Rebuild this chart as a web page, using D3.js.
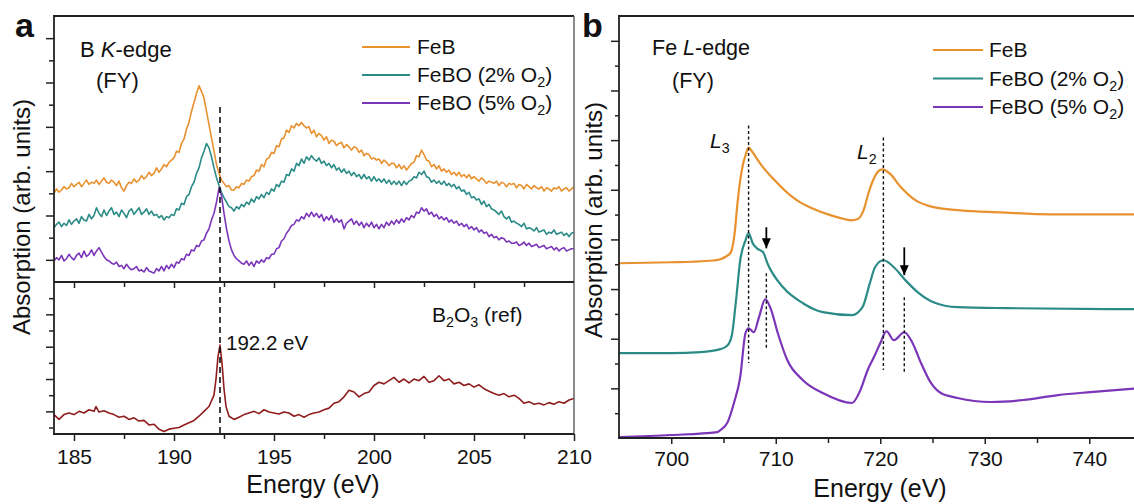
<!DOCTYPE html>
<html><head><meta charset="utf-8">
<script src="https://cdn.jsdelivr.net/npm/d3@7"></script>
<style>body{margin:0;background:#fff}svg{display:block}</style>
</head><body><svg id="c" width="1134" height="504"></svg>
<script>
// ---------- DATA ----------
// Panel a (B K-edge, FY): energy grid 184..210 eV every 0.125 eV, absorption
const energyK = d3.range(209).map(i => 184 + i / 8);
const feB_K = [
4.00,4.20,4.05,4.15,4.30,4.20,4.25,4.45,
4.30,4.40,4.50,4.30,4.45,4.60,4.40,4.50,
4.45,4.60,4.40,4.55,4.70,4.50,4.45,4.60,
4.50,4.35,4.55,4.25,4.10,4.35,4.50,4.45,
4.65,4.50,4.60,4.80,4.65,4.75,4.95,4.80,
4.90,5.15,4.95,5.10,5.30,5.20,5.40,5.50,
5.60,5.90,5.85,6.25,6.45,6.90,7.20,7.70,
8.10,8.50,8.85,8.60,8.30,7.70,7.10,6.50,
5.90,5.30,4.90,4.60,4.45,4.30,4.35,4.15,
4.15,4.30,4.25,4.45,4.40,4.60,4.55,4.75,
4.80,5.05,5.00,5.30,5.20,5.55,5.60,5.85,
5.80,6.15,6.10,6.45,6.50,6.85,6.75,7.05,
6.95,7.15,7.05,7.20,7.05,6.95,7.00,6.70,
6.85,6.55,6.70,6.60,6.40,6.55,6.25,6.40,
6.35,6.15,6.25,6.30,6.05,6.20,6.10,5.95,
6.10,6.05,5.85,5.95,5.70,5.80,5.75,5.55,
5.60,5.50,5.55,5.35,5.50,5.40,5.25,5.35,
5.35,5.15,5.30,5.10,5.25,5.05,5.20,5.35,
5.40,5.70,5.65,5.95,5.75,5.50,5.45,5.20,
5.30,5.10,5.25,5.00,5.10,4.95,5.05,4.85,
4.95,4.80,4.95,4.75,4.85,4.70,4.85,4.65,
4.75,4.65,4.55,4.70,4.60,4.45,4.55,4.50,
4.45,4.55,4.35,4.50,4.45,4.30,4.45,4.40,
4.45,4.25,4.40,4.35,4.20,4.40,4.30,4.20,
4.35,4.25,4.20,4.30,4.10,4.25,4.20,4.10,
4.25,4.20,4.30,4.10,4.20,4.25,4.10,4.20,
4.30];
const feBO2_K = [
2.45,2.60,2.70,2.50,2.65,2.55,2.80,2.60,
2.75,2.85,2.65,2.95,2.80,2.75,3.05,2.85,
3.00,3.35,3.10,2.95,3.25,3.00,3.20,3.35,
3.05,3.15,2.95,3.25,3.10,2.90,3.20,3.30,
3.05,3.20,3.35,3.05,3.15,3.30,3.05,3.20,
3.00,3.05,2.90,3.00,2.80,2.95,2.90,3.05,
3.00,3.30,3.25,3.55,3.50,3.85,3.95,4.30,
4.50,4.90,5.15,5.60,5.90,6.25,6.05,5.65,
5.15,4.70,4.35,4.05,3.80,3.60,3.40,3.35,
3.20,3.40,3.30,3.50,3.40,3.60,3.50,3.75,
3.60,3.85,3.75,3.95,3.80,4.05,3.95,4.20,
4.10,4.40,4.30,4.55,4.50,4.85,4.80,5.10,
5.00,5.35,5.25,5.55,5.35,5.65,5.50,5.70,
5.55,5.45,5.60,5.35,5.45,5.25,5.35,5.15,
5.30,5.05,5.15,4.95,5.10,4.90,5.00,4.80,
4.95,4.75,4.85,4.65,4.85,4.65,4.75,4.55,
4.75,4.55,4.65,4.50,4.65,4.45,4.60,4.40,
4.55,4.40,4.55,4.35,4.55,4.40,4.55,4.60,
4.75,4.70,4.95,4.85,5.00,4.75,4.70,4.50,
4.60,4.45,4.55,4.40,4.55,4.35,4.45,4.30,
4.40,4.20,4.30,4.10,4.15,3.95,4.05,3.80,
3.85,3.70,3.75,3.50,3.65,3.40,3.50,3.30,
3.25,3.15,3.05,3.20,2.95,2.85,2.95,2.70,
2.75,2.65,2.60,2.50,2.65,2.40,2.45,2.40,
2.30,2.45,2.25,2.30,2.35,2.15,2.25,2.20,
2.35,2.15,2.20,2.25,2.10,2.20,2.05,2.20,
2.25];
const feBO5_K = [
0.95,1.10,1.00,1.20,0.95,1.05,1.25,1.10,
1.00,1.20,1.30,1.10,1.40,1.15,1.25,1.45,
1.20,1.40,1.55,1.35,1.15,1.00,0.95,0.85,
0.80,0.90,0.70,0.75,0.60,0.80,0.65,0.55,
0.60,0.70,0.50,0.55,0.45,0.65,0.50,0.45,
0.40,0.60,0.50,0.70,0.50,0.75,0.60,0.80,
0.65,0.90,0.85,1.05,1.00,1.25,1.20,1.45,
1.40,1.65,1.60,1.85,1.90,2.20,2.40,2.80,
3.10,3.60,4.25,3.90,3.10,2.40,1.85,1.45,
1.20,1.05,0.95,0.85,0.80,0.95,0.75,0.90,
0.70,0.95,0.85,1.00,0.90,1.10,1.05,1.25,
1.25,1.50,1.55,1.85,1.95,2.20,2.35,2.55,
2.60,2.80,2.75,2.95,2.85,3.10,2.95,3.15,
2.95,3.10,2.90,3.05,2.75,2.95,2.80,3.00,
2.70,2.85,2.70,2.80,2.40,2.65,2.75,2.85,
2.60,2.75,2.55,2.70,2.45,2.65,2.50,2.70,
2.45,2.60,2.40,2.60,2.45,2.70,2.55,2.75,
2.60,2.80,2.65,2.85,2.70,2.90,2.80,3.00,
2.90,3.15,3.10,3.35,3.20,3.30,3.05,3.15,
2.95,3.05,2.85,2.95,2.80,2.90,2.70,2.80,
2.65,2.75,2.55,2.65,2.50,2.60,2.40,2.50,
2.35,2.45,2.25,2.35,2.20,2.25,2.05,2.15,
2.00,2.05,1.90,2.00,1.95,1.80,1.85,1.75,
1.75,1.80,1.65,1.70,1.80,1.65,1.75,1.60,
1.65,1.70,1.55,1.60,1.65,1.50,1.55,1.60,
1.45,1.55,1.40,1.50,1.55,1.40,1.45,1.50,
1.50];
// B2O3 reference: [energy eV, absorption]
const b2o3_K = [[184,0.9],[184.25,0.75],[184.5,0.9],[184.75,0.95],[185,0.9],[185.25,1.0],[185.5,0.95],[185.75,1.05],[186,1.0],[186.1,1.15],[186.25,0.98],[186.5,1.02],[186.75,0.95],[187,0.9],[187.25,0.82],[187.5,0.85],[187.75,0.75],[188,0.8],[188.25,0.7],[188.5,0.72],[188.75,0.58],[189,0.6],[189.25,0.45],[189.5,0.38],[189.75,0.45],[190,0.48],[190.25,0.5],[190.5,0.58],[190.75,0.65],[191,0.72],[191.25,0.85],[191.5,1.0],[191.75,1.15],[192,1.5],[192.1,2.0],[192.2,2.7],[192.3,3.05],[192.4,2.5],[192.5,1.7],[192.6,1.15],[192.75,0.85],[193,0.75],[193.25,0.82],[193.5,0.9],[193.75,0.95],[194,1.0],[194.25,0.93],[194.5,1.05],[194.75,0.98],[195,0.95],[195.25,0.92],[195.5,0.98],[195.75,0.95],[196,0.85],[196.25,0.9],[196.5,0.82],[196.75,0.9],[197,0.95],[197.25,0.98],[197.5,1.05],[197.75,1.1],[198,1.25],[198.25,1.3],[198.5,1.45],[198.75,1.65],[199,1.6],[199.25,1.45],[199.5,1.55],[199.75,1.6],[200,1.8],[200.25,1.9],[200.5,1.85],[200.75,1.95],[201,2.05],[201.25,1.9],[201.5,2.0],[201.75,1.88],[202,2.0],[202.25,1.95],[202.5,2.08],[202.75,1.9],[203,1.95],[203.25,2.1],[203.5,1.95],[203.75,2.0],[204,1.85],[204.25,1.9],[204.5,1.8],[204.75,1.85],[205,1.75],[205.25,1.82],[205.5,1.7],[205.75,1.62],[206,1.55],[206.25,1.5],[206.5,1.55],[206.75,1.45],[207,1.5],[207.25,1.4],[207.5,1.25],[207.75,1.3],[208,1.22],[208.25,1.25],[208.5,1.2],[208.75,1.27],[209,1.22],[209.25,1.3],[209.5,1.25],[209.75,1.35],[210,1.4]];

// Panel b (Fe L-edge, FY): [energy eV, absorption]
const feB_L = [[695,7.04],[700,7.08],[702,7.1],[704,7.15],[704.7,7.2],[705.2,7.3],[705.7,7.48],[706.1,8.37],[706.3,9.3],[706.6,10.38],[706.85,11.0],[707.1,11.38],[707.4,11.7],[707.8,11.5],[708.5,11.06],[709.9,10.38],[711.4,9.77],[712.3,9.5],[713.3,9.29],[715.3,8.97],[716.2,8.86],[717.2,8.77],[717.8,8.81],[718.4,9.17],[718.9,9.9],[719.4,10.46],[719.8,10.74],[720.2,10.82],[721.0,10.62],[721.9,10.14],[723.4,9.57],[724.8,9.33],[727.7,9.17],[731.5,9.09],[736.3,9.01],[741.1,9.01],[745,9.01]];
const feBO2_L = [[695,3.42],[700,3.42],[702.8,3.46],[704.7,3.58],[705.4,3.74],[705.8,4.14],[706.2,5.55],[706.6,7.16],[707.1,7.96],[707.4,8.25],[707.8,7.84],[708.2,7.64],[708.8,7.48],[709.2,7.04],[710.7,6.07],[712.6,5.43],[714.5,5.07],[717.3,4.95],[718.3,5.27],[719.0,6.23],[719.5,6.88],[720.3,7.16],[721.4,6.84],[722.4,6.36],[723.6,5.87],[725.1,5.47],[727.4,5.27],[732.2,5.23],[745,5.19]];
const feBO5_L = [[695,0.04],[700,0.12],[704.4,0.24],[704.7,0.32],[705.4,0.64],[706.0,1.41],[706.6,2.45],[707.1,4.22],[707.4,4.42],[707.9,4.26],[708.4,4.87],[709.0,5.59],[709.5,5.23],[710.2,4.22],[711.1,3.14],[712.6,2.33],[714.5,1.81],[717.3,1.41],[718.1,1.93],[718.8,2.74],[719.4,3.26],[720.0,3.82],[720.6,4.3],[721.3,3.94],[722.3,4.26],[723.1,3.82],[723.9,3.02],[724.8,2.25],[725.8,1.81],[727.4,1.61],[730.6,1.45],[733.7,1.53],[737.0,1.73],[740.1,1.85],[745,2.01]];

// ticks
const xTicksA = [185,190,195,200,205,210];
const xMinorA = [187.5,192.5,197.5,202.5,207.5];
const yTopMajor = [1,3,5,7,9,11], yTopMinor = [2,4,6,8,10];
const yBotMajor = [1,2,3,4], yBotMinor = [0.5,1.5,2.5,3.5,4.5];
const xTicksB = [700,710,720,730,740];
const xMinorB = [705,715,725,735];
const yBMajor = [2,4,6,8,10,12,14,16], yBMinor = [1,3,5,7,9,11,13,15];

// annotations
const refLineA = {e:192.3, top:7.9};
const peakLinesB = [{e:707.4,y1:12.59,y2:3.02},{e:709.1,y1:6.64,y2:3.54},{e:720.3,y1:12.11,y2:2.74},{e:722.3,y1:5.67,y2:2.61}];
const arrowsB = [{e:709.1,y1:8.49,y2:7.64},{e:722.3,y1:7.68,y2:6.56}];

const COL = {feB:"#E8912F", o2:"#2B8B87", o5:"#7B35B8", ref:"#8E1C1C"};
const FONT = "'Liberation Sans', Arial, sans-serif";

// ---------- DRAW ----------
const svg = d3.select("#c").style("font-family", FONT);
const xA = d3.scaleLinear([184,210],[54,574]);
const yAT = d3.scaleLinear([0,12],[282,16]);
const yAB = d3.scaleLinear([0.3,5.0],[434,282]);
const xB = d3.scaleLinear([695,745],[619,1141.5]);
const yB = d3.scaleLinear([0,17],[438,16]);

const defs = svg.append("defs");
defs.append("clipPath").attr("id","clipAT").append("rect").attr("x",54).attr("y",16).attr("width",520).attr("height",266);
defs.append("clipPath").attr("id","clipAB").append("rect").attr("x",54).attr("y",282).attr("width",520).attr("height",152);
defs.append("marker").attr("id","arr").attr("viewBox","0 0 10 10").attr("refX",10).attr("refY",5)
  .attr("markerWidth",10).attr("markerHeight",11).attr("markerUnits","userSpaceOnUse").attr("orient","auto")
  .append("path").attr("d","M0,0.5 L10,5 L0,9.5 Z").attr("fill","#000");

function axis(g, a, vals, size, labels, pad){
  a.tickValues(vals).tickSizeOuter(0).tickSizeInner(size).tickPadding(pad||5);
  if(!labels) a.tickFormat("");
  g.call(a);
  g.select(".domain").remove();
  g.selectAll("line").attr("stroke","#222").attr("stroke-width",1.5);
  g.selectAll("text").attr("font-family",FONT).attr("font-size",21).attr("fill","#111");
}

// panel a curves
const lineAT = d3.line().x(d=>xA(d[0])).y(d=>yAT(d[1]));
const lineAB = d3.line().x(d=>xA(d[0])).y(d=>yAB(d[1]));
const gAT = svg.append("g").attr("clip-path","url(#clipAT)");
[[feB_K,COL.feB],[feBO2_K,COL.o2],[feBO5_K,COL.o5]].forEach(([vals,c])=>{
  const d = vals.map((v,i)=>[energyK[i], v]);
  gAT.append("path").datum(d).attr("d",lineAT).attr("fill","none").attr("stroke",c).attr("stroke-width",1.6).attr("stroke-linejoin","round");
});
svg.append("g").attr("clip-path","url(#clipAB)").append("path").datum(b2o3_K).attr("d",lineAB)
  .attr("fill","none").attr("stroke",COL.ref).attr("stroke-width",1.6).attr("stroke-linejoin","round");

// dashed reference line a
svg.append("line").attr("x1",xA(refLineA.e)).attr("x2",xA(refLineA.e)).attr("y1",yAT(refLineA.top)).attr("y2",yAB(0.3))
  .attr("stroke","#111").attr("stroke-width",1.6).attr("stroke-dasharray","6,4");

// panel a axes
axis(svg.append("g").attr("transform","translate(54,0)"), d3.axisLeft(yAT), yTopMajor, 8, false);
axis(svg.append("g").attr("transform","translate(54,0)"), d3.axisLeft(yAT), yTopMinor, 5, false);
axis(svg.append("g").attr("transform","translate(54,0)"), d3.axisLeft(yAB), yBotMajor, 8, false);
axis(svg.append("g").attr("transform","translate(54,0)"), d3.axisLeft(yAB), yBotMinor, 5, false);
axis(svg.append("g").attr("transform","translate(0,282)"), d3.axisBottom(xA), xTicksA.filter(v=>v<210), 6, false);
axis(svg.append("g").attr("transform","translate(0,282)"), d3.axisBottom(xA), xMinorA, 5, false);
axis(svg.append("g").attr("transform","translate(0,434)"), d3.axisBottom(xA), xTicksA, 7, true, 8);
axis(svg.append("g").attr("transform","translate(0,434)"), d3.axisBottom(xA), xMinorA, 5, false);
// frame a
const fr = (x1,y1,x2,y2,c,w)=>svg.append("line").attr("x1",x1).attr("y1",y1).attr("x2",x2).attr("y2",y2).attr("stroke",c).attr("stroke-width",w);
fr(54,16,54,434,"#222",1.8);
fr(53,16,574,16,"#222",1.8);
fr(574,16,574,434,"#666",1.5);
fr(54,282,574,282,"#222",1.8);
fr(53,434,574,434,"#222",1.8);

// panel b curves
const lineB = d3.line().x(d=>xB(d[0])).y(d=>yB(d[1])).curve(d3.curveMonotoneX);
[[feB_L,COL.feB],[feBO2_L,COL.o2],[feBO5_L,COL.o5]].forEach(([d,c])=>{
  svg.append("path").datum(d).attr("d",lineB).attr("fill","none").attr("stroke",c).attr("stroke-width",2.2);
});
peakLinesB.forEach(p=>svg.append("line").attr("x1",xB(p.e)).attr("x2",xB(p.e)).attr("y1",yB(p.y1)).attr("y2",yB(p.y2))
  .attr("stroke","#111").attr("stroke-width",1.4).attr("stroke-dasharray","3,2.5"));
arrowsB.forEach(p=>svg.append("line").attr("x1",xB(p.e)).attr("x2",xB(p.e)).attr("y1",yB(p.y1)).attr("y2",yB(p.y2))
  .attr("stroke","#000").attr("stroke-width",1.8).attr("marker-end","url(#arr)"));

// panel b axes
axis(svg.append("g").attr("transform","translate(619,0)"), d3.axisLeft(yB), yBMajor, 8, false);
axis(svg.append("g").attr("transform","translate(619,0)"), d3.axisLeft(yB), yBMinor, 4, false);
axis(svg.append("g").attr("transform","translate(0,438)"), d3.axisBottom(xB), xTicksB, 6, true, 7);
axis(svg.append("g").attr("transform","translate(0,438)"), d3.axisBottom(xB), xMinorB, 5, false);
fr(619,16,619,438,"#222",1.8);
fr(618,16,1134,16,"#222",1.8);
fr(618,438,1134,438,"#222",1.8);

// ---------- TEXT ----------
function txt(x,y,parts,size,opts={}){
  const t = svg.append("text").attr("x",x).attr("y",y).attr("font-size",size).attr("fill","#111");
  if(opts.anchor) t.attr("text-anchor",opts.anchor);
  if(opts.weight) t.attr("font-weight",opts.weight);
  if(opts.transform) t.attr("transform",opts.transform);
  let pending = 0;
  parts.forEach(p=>{
    const s = t.append("tspan");
    if(typeof p==="string"){ s.text(p); if(pending){ s.attr("dy",pending); pending=0; } }
    else if(p.sub){ s.attr("font-size",size*0.68).attr("dy",size*0.25 + pending).text(p.sub); pending = -size*0.25; }
    else if(p.it){ s.attr("font-style","italic").text(p.it); if(pending){ s.attr("dy",pending); pending=0; } }
  });
  return t;
}
txt(15,37,["a"],34,{weight:"bold"});
txt(582,37,["b"],34,{weight:"bold"});
txt(80,57,["B ",{it:"K"},"-edge"],22);
txt(96,88,["(FY)"],22);
txt(652,55,["Fe ",{it:"L"},"-edge"],21.5);
txt(672,88,["(FY)"],21.5);

// legends
const legendLabels = [["FeB"],["FeBO (2% O",{sub:"2"},")"],["FeBO (5% O",{sub:"2"},")"]];
const legendCols = [COL.feB,COL.o2,COL.o5];
[[362,410,417,[47,75,103]],[933,983,989,[50,78.5,107]]].forEach(([l1,l2,tx,ys])=>{
  legendLabels.forEach((lab,i)=>{
    svg.append("line").attr("x1",l1).attr("x2",l2).attr("y1",ys[i]).attr("y2",ys[i]).attr("stroke",legendCols[i]).attr("stroke-width",2.2);
    txt(tx,ys[i]+7,lab,21);
  });
});

txt(xA(192.3)+6,yAB(3.05)+5,["192.2 eV"],20.5);
txt(432,322,["B",{sub:"2"},"O",{sub:"3"}," (ref)"],21);
txt(710,148,[{it:"L"},{sub:"3"}],21);
txt(857,159,[{it:"L"},{sub:"2"}],21);

// axis titles
txt(313,493,["Energy (eV)"],25,{anchor:"middle"});
txt(880,497,["Energy (eV)"],25,{anchor:"middle"});
txt(0,0,["Absorption (arb. units)"],24,{anchor:"middle",transform:"translate(30,217) rotate(-90)"});
txt(0,0,["Absorption (arb. units)"],24,{anchor:"middle",transform:"translate(602,220) rotate(-90)"});
</script></body></html>
